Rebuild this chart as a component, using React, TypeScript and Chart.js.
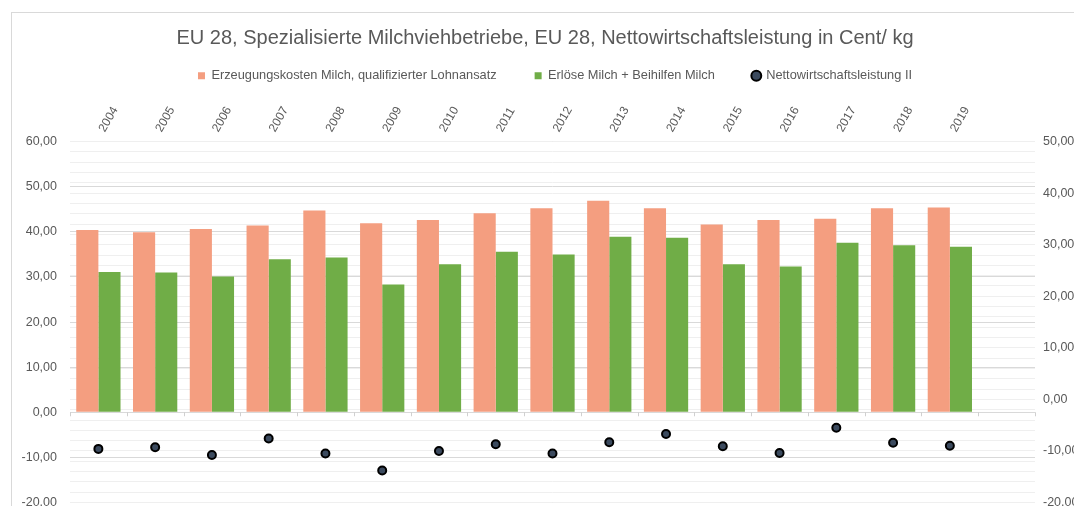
import React, { useEffect, useRef } from 'react';
import { Chart, registerables } from 'chart.js';

Chart.register(...registerables);

const TITLE = 'EU 28, Spezialisierte Milchviehbetriebe, EU 28, Nettowirtschaftsleistung in Cent/ kg';
const categories = ['2004', '2005', '2006', '2007', '2008', '2009', '2010', '2011', '2012', '2013', '2014', '2015', '2016', '2017', '2018', '2019', ''];
const costLabel = 'Erzeugungskosten Milch, qualifizierter Lohnansatz';
const revenueLabel = 'Erlöse Milch + Beihilfen Milch';
const netLabel = 'Nettowirtschaftsleistung II';
const costs = [40.4, 39.9, 40.6, 41.4, 44.7, 41.9, 42.6, 44.1, 45.2, 46.9, 45.2, 41.6, 42.6, 42.9, 45.2, 45.4, null];
const revenues = [31.1, 31.0, 30.1, 33.9, 34.3, 28.3, 32.8, 35.6, 35.0, 38.9, 38.7, 32.8, 32.3, 37.6, 37.0, 36.7, null];
const netPerformance = [-9.6, -9.3, -10.8, -7.6, -10.5, -13.8, -10.0, -8.7, -10.5, -8.3, -6.7, -9.1, -10.4, -5.5, -8.4, -9.0, null];
const leftAxisRange = [-20, 60];
const rightAxisRange = [-20, 50];

const FONT = "'Liberation Sans', Arial, sans-serif";
const TEXT = '#595959';

const fmt = (v: number) => v.toFixed(2).replace('.', ',');

const zeroTicks = {
  id: 'zeroTicks',
  beforeDatasetsDraw(chart: any) {
    const xs = chart.scales.x;
    const ys = chart.scales.y;
    const ctx = chart.ctx;
    const y0 = ys.getPixelForValue(0);
    const n = categories.length;
    const w = (xs.right - xs.left) / n;
    ctx.save();
    ctx.strokeStyle = '#d0d0d0';
    ctx.lineWidth = 1;
    ctx.beginPath();
    for (let i = 0; i <= n; i++) {
      const px = Math.round(xs.getPixelForValue(Math.min(i, n - 1)) + (i < n ? -w / 2 : w / 2)) + 0.5;
      ctx.moveTo(px, y0);
      ctx.lineTo(px, y0 + 4);
    }
    ctx.stroke();
    ctx.restore();
  },
};

const legendShift = {
  id: 'legendShift',
  afterLayout(chart: any) {
    if (chart.legend) {
      chart.legend.left += 10;
      chart.legend.right += 10;
    }
  },
};

export default function App() {
  const ref = useRef<HTMLCanvasElement | null>(null);
  useEffect(() => {
    if (!ref.current) return;
    const chart = new Chart(ref.current, {
      type: 'bar',
      data: {
        labels: categories,
        datasets: [
          {
            type: 'bar',
            label: costLabel,
            data: costs,
            backgroundColor: '#F49E80',
            yAxisID: 'y',
            pointStyle: 'rect',
          } as any,
          {
            type: 'bar',
            label: revenueLabel,
            data: revenues,
            backgroundColor: '#70AD47',
            yAxisID: 'y',
            pointStyle: 'rect',
          } as any,
          {
            type: 'line',
            label: netLabel,
            data: netPerformance,
            showLine: false,
            yAxisID: 'y1',
            pointRadius: 4,
            pointHoverRadius: 4,
            pointBorderWidth: 2,
            borderWidth: 2,
            pointBackgroundColor: '#3B4A5E',
            pointBorderColor: '#000000',
            backgroundColor: '#3B4A5E',
            borderColor: '#000000',
            pointStyle: 'circle',
          } as any,
        ],
      },
      options: {
        animation: false,
        responsive: false,
        maintainAspectRatio: false,
        layout: { padding: { top: 0, bottom: 11.5, left: 0, right: 0 } },
        datasets: { bar: { categoryPercentage: 0.78, barPercentage: 1 } },
        plugins: {
          title: {
            display: true,
            text: TITLE,
            color: TEXT,
            font: { family: FONT, size: 20, weight: 'normal' },
            padding: { top: 18, bottom: -18.7 },
          },
          legend: {
            display: true,
            position: 'top',
            labels: {
              usePointStyle: true,
              boxWidth: 7,
              boxHeight: 7,
              padding: 38,
              color: TEXT,
              font: { family: FONT, size: 12.8 },
            },
          },
          tooltip: { enabled: false },
        },
        scales: {
          x: {
            type: 'category',
            position: 'top',
            offset: true,
            grid: { display: false },
            border: { display: false },
            ticks: {
              autoSkip: false,
              minRotation: 60,
              maxRotation: 60,
              padding: -1,
              labelOffset: 16,
              color: TEXT,
              font: { family: FONT, size: 12 },
            },
            afterFit: (s: any) => { s.height = 49.5; s.paddingLeft = 0; s.paddingRight = 0; s.paddingTop = 0; s.paddingBottom = 0; },
          },
          y: {
            position: 'left',
            min: leftAxisRange[0],
            max: leftAxisRange[1],
            border: { display: false },
            grid: { color: '#d9d9d9', drawTicks: false, lineWidth: 1 },
            ticks: {
              stepSize: 10,
              padding: 13,
              color: TEXT,
              font: { family: FONT, size: 12.5 },
              callback: (v: any) => fmt(Number(v)),
            },
            afterFit: (s: any) => { s.width = 62; s.paddingTop = 0; s.paddingBottom = 0; },
          },
          y1: {
            position: 'right',
            min: rightAxisRange[0],
            max: rightAxisRange[1],
            border: { display: false },
            grid: { color: '#efefef', drawTicks: false, lineWidth: 1 },
            ticks: {
              stepSize: 2,
              autoSkip: false,
              padding: 8,
              color: TEXT,
              font: { family: FONT, size: 12.5 },
              callback: (v: any) => (Number(v) % 10 === 0 ? fmt(Number(v)) : ''),
            },
            afterFit: (s: any) => { s.width = 47; s.paddingTop = 0; s.paddingBottom = 0; },
          },
        },
      },
      plugins: [zeroTicks, legendShift],
    } as any);
    return () => chart.destroy();
  }, []);

  return (
    <div style={{ position: 'relative', width: 1074, height: 506, overflow: 'hidden', marginBottom: -8, background: '#fff' }}>
      <div style={{ position: 'absolute', left: 3, top: 4, width: 1200, height: 700, border: '1px solid #d9d9d9', boxSizing: 'border-box' }} />
      <canvas ref={ref} width={1074} height={506} style={{ position: 'absolute', left: 0, top: 0, width: 1074, height: 506 }} />
    </div>
  );
}
